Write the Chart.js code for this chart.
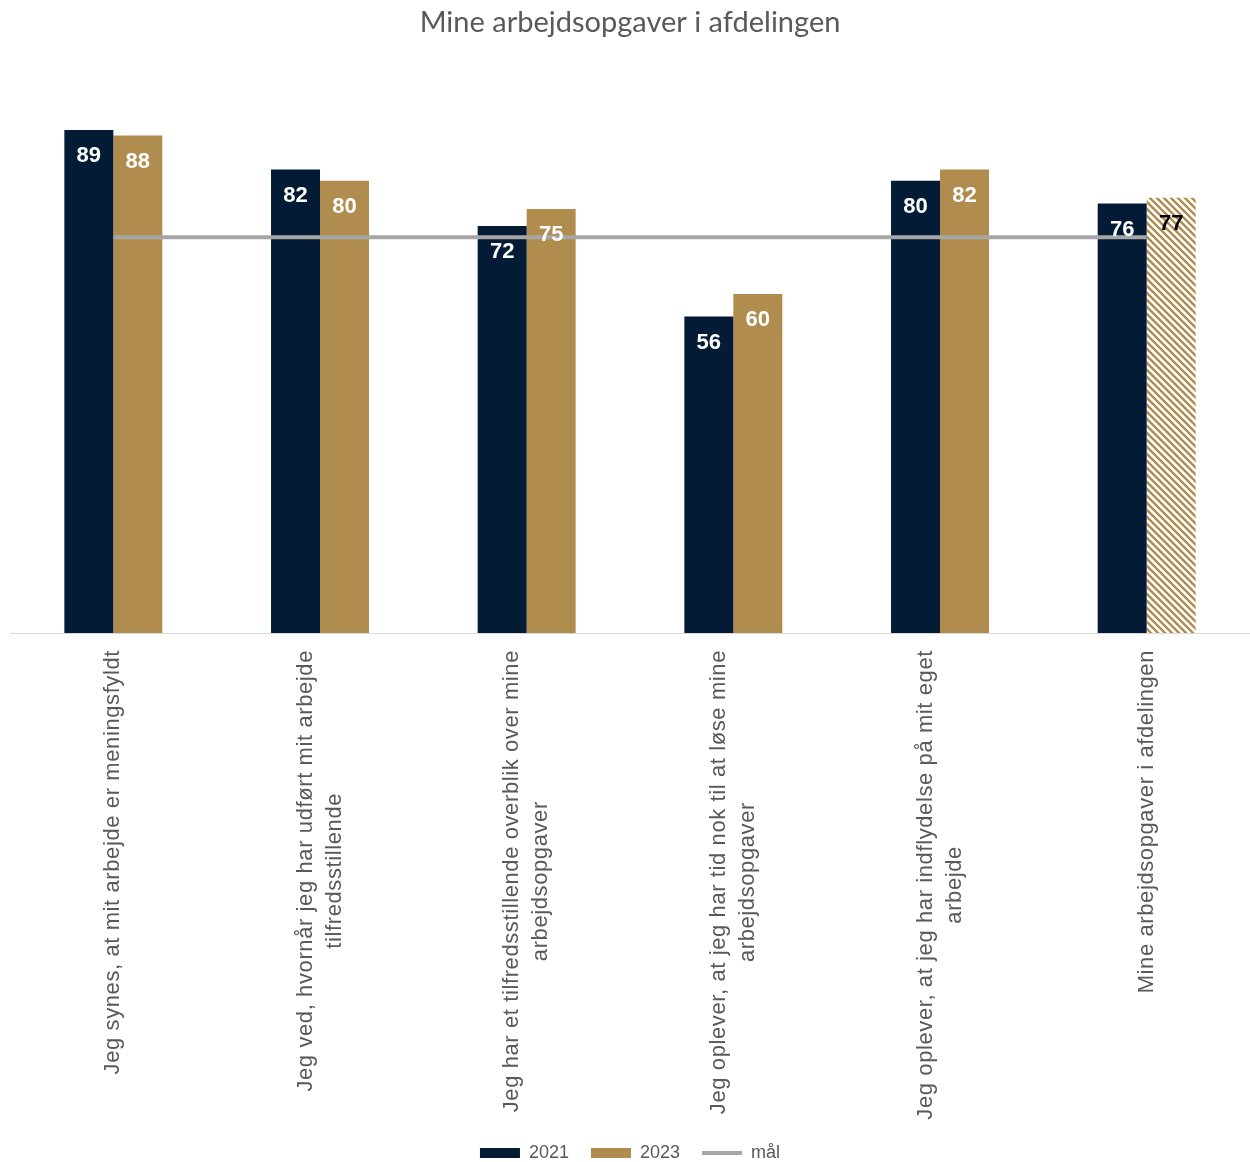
<!DOCTYPE html>
<html>
<head>
<meta charset="utf-8">
<script src="https://cdn.jsdelivr.net/npm/chart.js@4"></script>
<style>
  html, body { margin: 0; padding: 0; background: #fff; }
  #wrap { width: 1250px; height: 1162px; }
</style>
</head>
<body>
<div id="wrap"><canvas id="chart"></canvas></div>
<script>
// Spørgsmål (kategorier) - delt over flere linjer
const kategorier = [
  'Jeg synes, at mit arbejde er meningsfyldt',
  ['Jeg ved, hvornår jeg har udført mit arbejde', 'tilfredsstillende'],
  ['Jeg har et tilfredsstillende overblik over mine', 'arbejdsopgaver'],
  ['Jeg oplever, at jeg har tid nok til at løse mine', 'arbejdsopgaver'],
  ['Jeg oplever, at jeg har indflydelse på mit eget', 'arbejde'],
  'Mine arbejdsopgaver i afdelingen'
];

const vaerdier2021 = [89, 82, 72, 56, 80, 76];
const vaerdier2023 = [88, 80, 75, 60, 82, 77];
const maal = [70, 70, 70, 70, 70, 70];

const NAVY = '#041b36';
const GULD = '#b08c4f';
const GRAA = '#a6a6a6';
const TEKST = '#595959';

// Skraveret mønster til den samlede score
function lavSkravering(farve) {
  const s = 7;
  const c = document.createElement('canvas');
  c.width = s; c.height = s;
  const g = c.getContext('2d');
  g.fillStyle = '#ffffff';
  g.fillRect(0, 0, s, s);
  g.strokeStyle = farve;
  g.lineWidth = 2.4;
  g.beginPath();
  g.moveTo(0, 0); g.lineTo(s, s);
  g.moveTo(-s, 0); g.lineTo(s, 2 * s);
  g.moveTo(0, -s); g.lineTo(2 * s, s);
  g.stroke();
  return g.createPattern(c, 'repeat');
}

const skravering = lavSkravering(GULD);
const farver2023 = vaerdier2023.map((v, i) => i === vaerdier2023.length - 1 ? skravering : GULD);

// Tal inde i toppen af søjlerne
const vaerdiEtiketter = {
  id: 'vaerdiEtiketter',
  afterDatasetsDraw(chart) {
    const ctx = chart.ctx;
    ctx.save();
    ctx.font = 'bold 22px "Liberation Sans", Arial, sans-serif';
    ctx.textAlign = 'center';
    ctx.textBaseline = 'middle';
    [0, 1].forEach(di => {
      const meta = chart.getDatasetMeta(di);
      const data = chart.data.datasets[di].data;
      meta.data.forEach((bar, i) => {
        const skraveret = di === 1 && i === data.length - 1;
        ctx.fillStyle = skraveret ? '#000000' : '#ffffff';
        ctx.fillText(String(data[i]), bar.x, bar.y + 26);
      });
    });
    ctx.restore();
  }
};

// Lodrette kategoritekster, linjerne centreret i forhold til hinanden
const kategoriTekster = {
  id: 'kategoriTekster',
  afterDraw(chart) {
    const ctx = chart.ctx;
    const x = chart.scales.x;
    const top = chart.chartArea.bottom + 17;
    const linjeHoejde = 29;
    ctx.save();
    ctx.font = '22px "Liberation Sans", Arial, sans-serif';
    ctx.letterSpacing = '0.6px';
    ctx.fillStyle = TEKST;
    ctx.textAlign = 'center';
    ctx.textBaseline = 'middle';
    chart.data.labels.forEach((lbl, i) => {
      const linjer = Array.isArray(lbl) ? lbl : [lbl];
      const bredde = Math.max(...linjer.map(l => ctx.measureText(l).width));
      const cx = x.getPixelForTick(i);
      linjer.forEach((linje, j) => {
        const lx = cx + (j - (linjer.length - 1) / 2) * linjeHoejde;
        ctx.save();
        ctx.translate(lx, top + bredde / 2);
        ctx.rotate(-Math.PI / 2);
        ctx.fillText(linje, 0, 0);
        ctx.restore();
      });
    });
    ctx.restore();
  }
};

new Chart(document.getElementById('chart'), {
  type: 'bar',
  data: {
    labels: kategorier,
    datasets: [
      {
        label: '2021',
        data: vaerdier2021,
        backgroundColor: NAVY,
        order: 1
      },
      {
        label: '2023',
        data: vaerdier2023,
        backgroundColor: farver2023,
        order: 1
      },
      {
        type: 'line',
        label: 'mål',
        data: maal,
        borderColor: GRAA,
        backgroundColor: GRAA,
        borderWidth: 4,
        pointRadius: 0,
        pointStyle: 'line',
        order: 0
      }
    ]
  },
  options: {
    responsive: true,
    maintainAspectRatio: false,
    animation: false,
    datasets: {
      bar: {
        categoryPercentage: 0.474,
        barPercentage: 1,
        pointStyle: 'rect'
      }
    },
    layout: { padding: { left: 10, right: 0, top: 0, bottom: -10 } },
    plugins: {
      title: {
        display: true,
        text: 'Mine arbejdsopgaver i afdelingen',
        color: TEKST,
        font: { family: 'Lato, "Open Sans", sans-serif', size: 29, weight: 'normal' },
        padding: { top: 5, bottom: 28 }
      },
      legend: {
        position: 'bottom',
        labels: {
          sort: (a, b) => a.datasetIndex - b.datasetIndex,
          color: TEKST,
          usePointStyle: true,
          pointStyleWidth: 40,
          boxHeight: 10,
          padding: 22,
          font: { family: '"Liberation Sans", Arial, sans-serif', size: 18 }
        }
      },
      tooltip: { enabled: false }
    },
    scales: {
      x: {
        grid: { display: false },
        border: { color: '#d9d9d9', width: 1 },
        ticks: { display: false },
        afterFit(scale) { scale.height = 489; }
      },
      y: {
        display: false,
        min: 0,
        max: 100
      }
    }
  },
  plugins: [vaerdiEtiketter, kategoriTekster]
});
</script>
</body>
</html>
